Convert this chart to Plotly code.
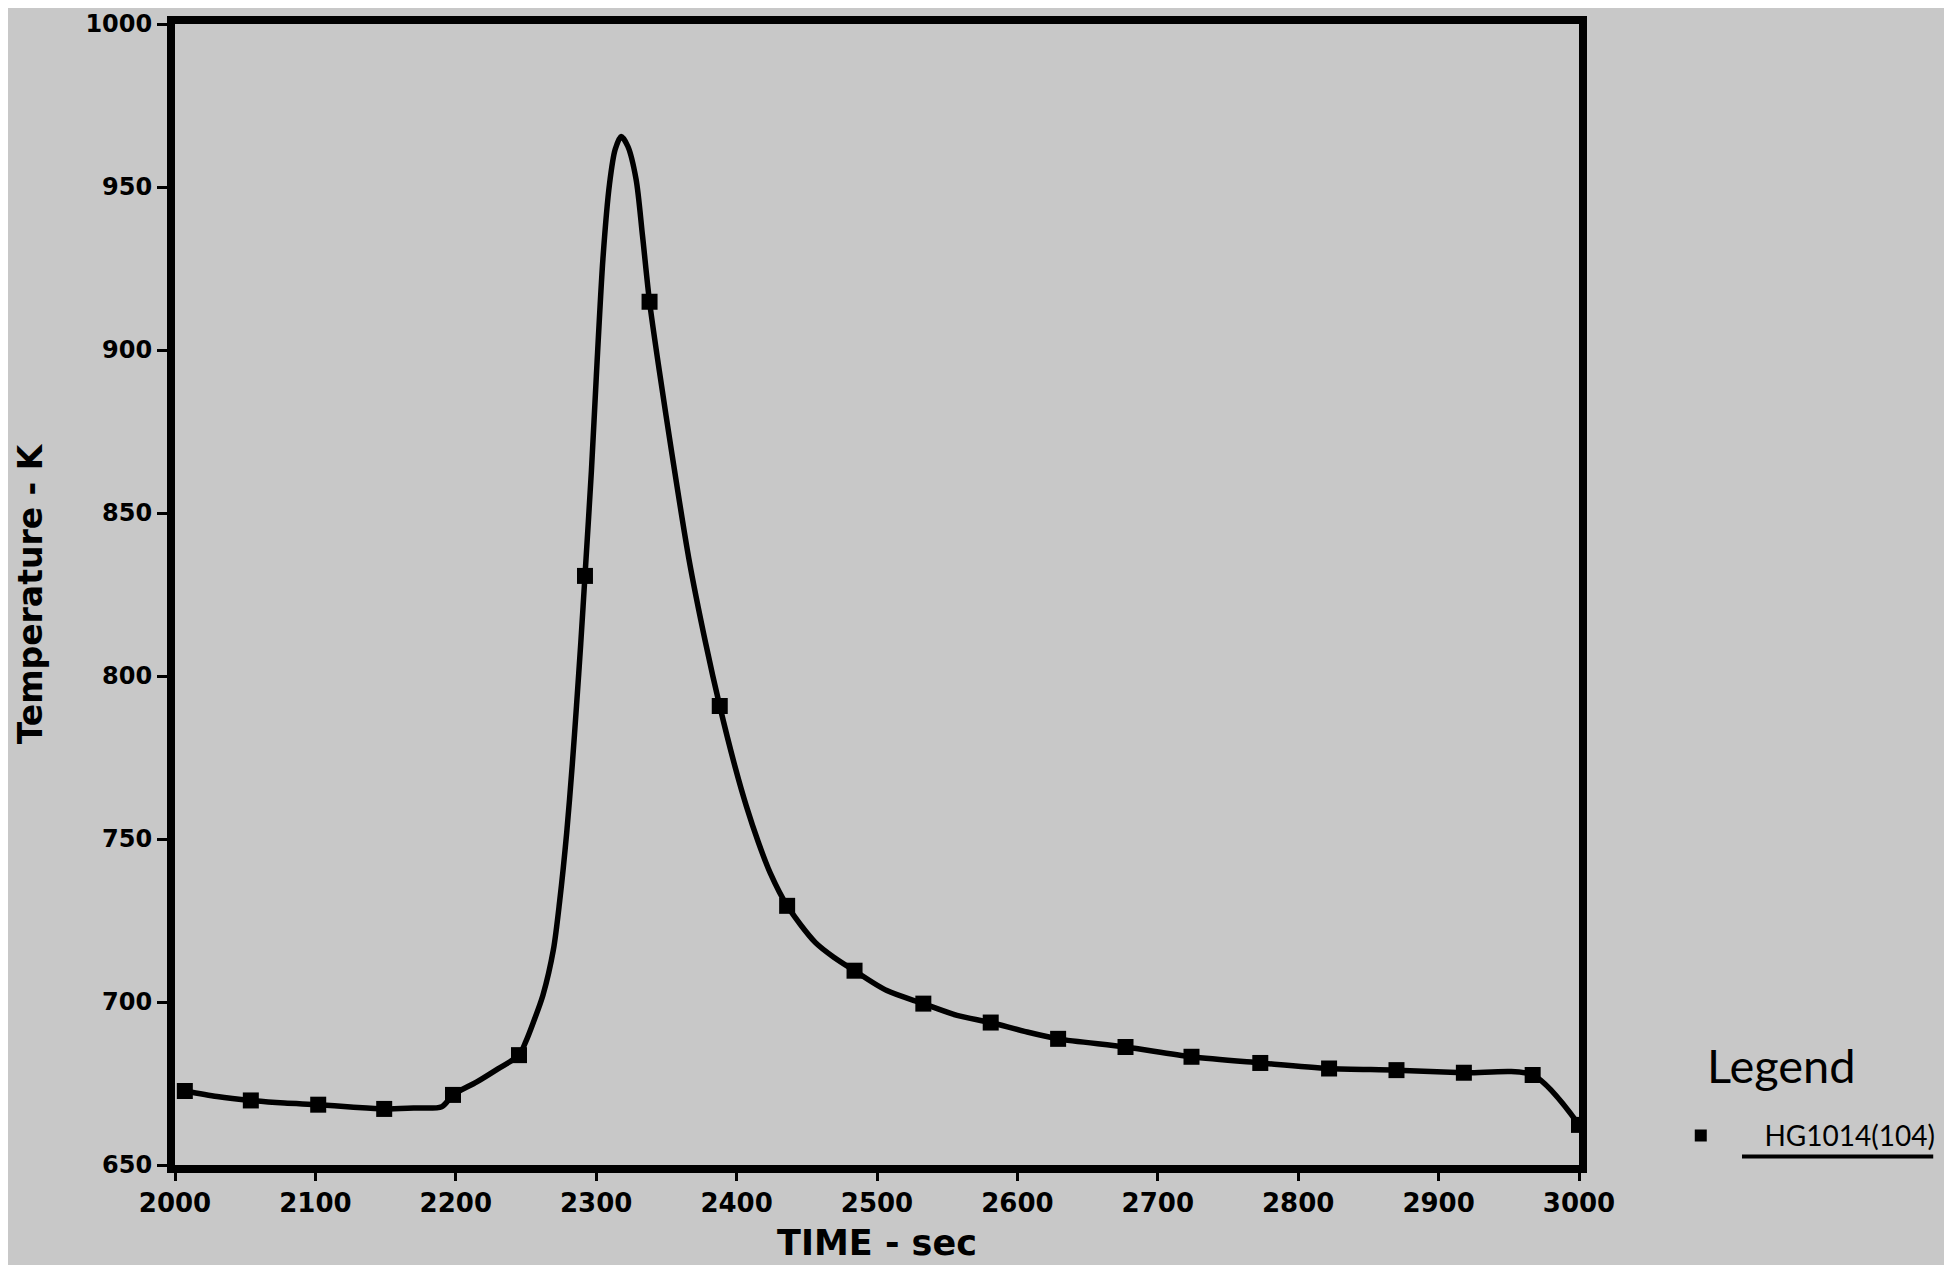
import plotly.graph_objects as go

# Marker samples (time in s, temperature in K)
marker_time = [2007, 2054, 2102, 2149, 2198, 2245, 2292, 2338, 2388, 2436, 2484,
               2533, 2581, 2629, 2677, 2724, 2773, 2822, 2870, 2918, 2967, 3000]
marker_temp = [672.7, 669.8, 668.5, 667.2, 671.5, 683.7, 830.7, 914.8, 790.8, 729.5, 709.6,
               699.5, 693.7, 688.7, 686.2, 683.2, 681.3, 679.6, 679.1, 678.3, 677.6, 662.3]

# Continuous curve
curve_time = [2007, 2030, 2054, 2078, 2102, 2125, 2149, 2170, 2190, 2198, 2215, 2230, 2245,
              2250, 2255, 2262, 2269.5, 2274, 2279, 2283, 2286, 2289, 2292, 2296.6, 2300.1,
              2304.8, 2309.5, 2313.5, 2317.8, 2322.5, 2328.4, 2333, 2338, 2345, 2354,
              2366, 2378, 2388, 2399, 2407, 2415.5, 2424, 2436, 2456, 2470, 2484, 2507,
              2533, 2557, 2581, 2605, 2629, 2677, 2724, 2773, 2822, 2870, 2918, 2967, 3000]
curve_temp = [672.7, 671.0, 669.8, 669.0, 668.5, 667.8, 667.2, 667.5, 667.9, 671.5, 675.5, 679.5, 683.7,
              688.0, 693.5, 702.0, 716.0, 731.0, 752.0, 773.0, 791.0, 810.0, 830.7, 863.0, 892.0,
              928.0, 951.0, 961.5, 965.5, 962.5, 952.4, 935.0, 914.8, 893.5, 868.0,
              836.0, 810.0, 790.8, 772.0, 760.0, 749.0, 739.5, 729.5, 718.3, 713.5, 709.6, 703.5,
              699.5, 695.9, 693.7, 691.0, 688.7, 686.2, 683.2, 681.3, 679.6, 679.1, 678.3, 677.6, 662.3]

x_ticks = [2000, 2100, 2200, 2300, 2400, 2500, 2600, 2700, 2800, 2900, 3000]
y_ticks = [650, 700, 750, 800, 850, 900, 950, 1000]

series_name = "HG1014(104)"
legend_title = "Legend"
x_title = "TIME - sec"
y_title = "Temperature - K"

BG = "#c8c8c8"

fig = go.Figure()
fig.add_trace(go.Scatter(
    x=curve_time, y=curve_temp, mode="lines",
    line=dict(color="black", width=5.5, shape="spline", smoothing=0.8),
    showlegend=False, hoverinfo="skip"))
fig.add_trace(go.Scatter(
    x=marker_time, y=marker_temp, mode="markers",
    name="\u00a0" * 4 + series_name,
    marker=dict(symbol="square", size=16, color="black"),
    cliponaxis=False))

fig.update_layout(
    width=1952, height=1265,
    paper_bgcolor=BG, plot_bgcolor=BG,
    margin=dict(l=167, r=381, t=16, b=108),
    xaxis=dict(range=[2000, 3000], tickvals=x_ticks, ticktext=[str(v) for v in x_ticks],
               showgrid=False, zeroline=False, showline=True, linecolor="black", linewidth=8,
               mirror=True, ticks="outside", ticklen=8, tickwidth=3, tickcolor="black",
               tickfont=dict(family="DejaVu Sans", size=26, color="black", weight="bold"),
               automargin=False,
               title=dict(text=x_title, standoff=16,
                          font=dict(family="DejaVu Sans", size=35, color="black", weight="bold"))),
    yaxis=dict(range=[650, 1000], tickvals=y_ticks, ticktext=[str(v) for v in y_ticks],
               showgrid=False, zeroline=False, showline=True, linecolor="black", linewidth=8,
               mirror=True, ticks="outside", ticklen=10, tickwidth=3, tickcolor="black",
               tickfont=dict(family="DejaVu Sans", size=24, color="black", weight="bold"),
               automargin=False,
               title=dict(text=y_title, standoff=36,
                          font=dict(family="DejaVu Sans", size=33, color="black", weight="bold"))),
    showlegend=True,
    legend=dict(
        x=1.0618, y=0.0257, xanchor="left", yanchor="middle",
        bgcolor="rgba(0,0,0,0)", borderwidth=0,
        font=dict(family="Lato", size=28, color="black"),
        itemwidth=60, itemsizing="constant", tracegroupgap=0),
    annotations=[dict(text=legend_title, xref="paper", yref="paper",
                      x=1.090, y=0.0877, xanchor="left", yanchor="middle",
                      showarrow=False,
                      font=dict(family="Lato", size=47, color="black"))],
)

# underline under the legend label
fig.add_shape(type="line", xref="paper", yref="paper",
              x0=1.1161, x1=1.2523, y0=0.0074, y1=0.0074,
              line=dict(color="black", width=4))

fig.write_html("out.html")
